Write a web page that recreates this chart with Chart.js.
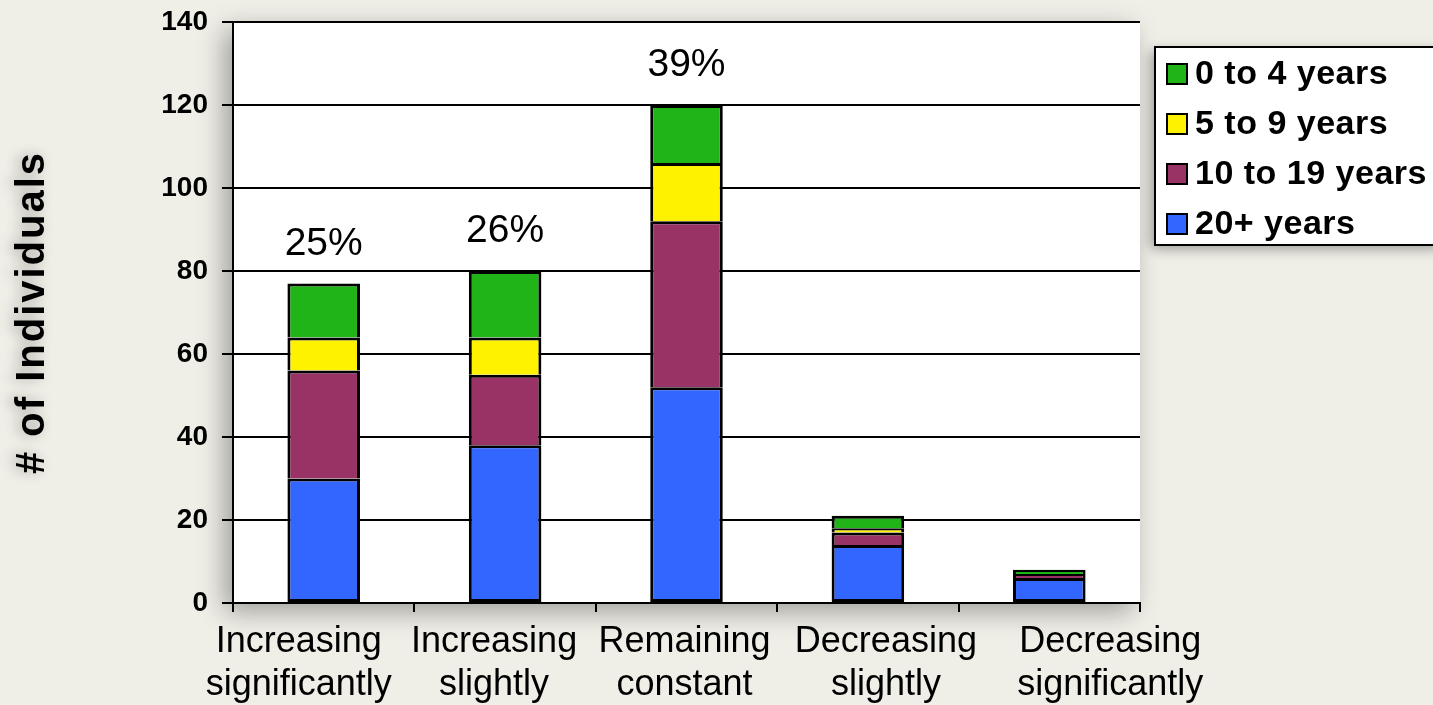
<!DOCTYPE html>
<html>
<head>
<meta charset="utf-8">
<script src="https://cdn.jsdelivr.net/npm/chart.js@4.4.1/dist/chart.umd.min.js"></script>
<style>
    body { margin: 0; background: #efeee7; }
    canvas { display: block; }
</style>
</head>
<body>
<canvas id="chart" width="1433" height="705"></canvas>
<script>
const categories = [
    ['Increasing', 'significantly'],
    ['Increasing', 'slightly'],
    ['Remaining', 'constant'],
    ['Decreasing', 'slightly'],
    ['Decreasing', 'significantly']
];
const years20plus = [30, 38, 52, 14, 6];
const years10to19 = [26, 17, 40, 3, 1];
const years5to9 = [8, 9, 14, 1, 0];
const years0to4 = [13, 16, 14, 3, 1];
const percentLabels = ['25%', '26%', '39%', '', ''];
const yMin = 0, yMax = 140, yStep = 20;
const yTitle = '# of Individuals';

const FONT = "'Liberation Sans', Arial, sans-serif";
// category labels are spread out a bit like in the original slide
const labelShift = [-25, -11, -2, 18, 61];

// white plot area with a soft shadow behind it
const plotBackground = {
    id: 'plotBackground',
    beforeDraw(chart) {
        const { ctx, chartArea: a } = chart;
        ctx.save();
        ctx.shadowColor = 'rgba(0,0,0,0.35)';
        ctx.shadowBlur = 25;
        ctx.shadowOffsetX = -8;
        ctx.shadowOffsetY = 8;
        ctx.fillStyle = '#ffffff';
        ctx.fillRect(a.left, a.top, a.right - a.left, a.bottom - a.top);
        ctx.restore();

        // y axis title, drawn by hand for the letter spacing
        ctx.save();
        ctx.translate(33, (a.top + a.bottom) / 2);
        ctx.rotate(-Math.PI / 2);
        ctx.font = `bold 40px ${FONT}`;
        ctx.letterSpacing = '2px';
        ctx.textAlign = 'center';
        ctx.textBaseline = 'middle';
        ctx.shadowColor = 'rgba(0,0,0,0.3)';
        ctx.shadowBlur = 14;
        ctx.shadowOffsetX = -4;
        ctx.fillStyle = '#000';
        ctx.fillText(yTitle, 0, 0);
        ctx.restore();
    }
};

// category names under the axis, and percentages above the first bars
const textPlugin = {
    id: 'textPlugin',
    afterDatasetsDraw(chart) {
        const { ctx, scales, chartArea } = chart;
        ctx.save();
        ctx.fillStyle = '#000';
        ctx.textAlign = 'center';
        ctx.textBaseline = 'middle';
        ctx.font = `36px ${FONT}`;
        categories.forEach((lines, i) => {
            const x = scales.x.getPixelForValue(i) + labelShift[i];
            lines.forEach((line, j) => {
                ctx.fillText(line, x, chartArea.bottom + 39 + j * 43);
            });
        });
        ctx.font = `39px ${FONT}`;
        ctx.textBaseline = 'bottom';
        percentLabels.forEach((txt, i) => {
            if (!txt) return;
            const total = years20plus[i] + years10to19[i] + years5to9[i] + years0to4[i];
            const x = scales.x.getPixelForValue(i);
            const y = scales.y.getPixelForValue(total) - 20;
            ctx.fillText(txt, x, y);
        });
        ctx.restore();
    }
};

// boxed legend on the right, top item first
const legendBox = {
    id: 'legendBox',
    afterDraw(chart) {
        const { ctx } = chart;
        const left = 1155, top = 47, width = 290, height = 198;
        ctx.save();
        ctx.shadowColor = 'rgba(0,0,0,0.35)';
        ctx.shadowBlur = 12;
        ctx.shadowOffsetX = -4;
        ctx.shadowOffsetY = 4;
        ctx.fillStyle = '#fff';
        ctx.fillRect(left, top, width, height);
        ctx.restore();
        ctx.save();
        ctx.lineWidth = 2;
        ctx.strokeStyle = '#000';
        ctx.strokeRect(left, top, width, height);
        const items = chart.data.datasets.slice().reverse();
        ctx.font = `bold 34px ${FONT}`;
        ctx.letterSpacing = '0.5px';
        ctx.textBaseline = 'middle';
        items.forEach((ds, i) => {
            const cy = 74 + i * 50;
            ctx.fillStyle = ds.backgroundColor;
            ctx.fillRect(1167, cy - 10, 20, 20);
            ctx.strokeRect(1167, cy - 10, 20, 20);
            ctx.fillStyle = '#000';
            ctx.fillText(ds.label, 1195, cy + 1);
        });
        ctx.restore();
    }
};

// upper segments skip their bottom edge so joins stay one line thick
function makeDataset(label, data, color, isBottom) {
    return {
        label: label,
        data: data,
        backgroundColor: color,
        borderColor: '#000',
        borderWidth: 3,
        borderSkipped: isBottom ? false : 'bottom',
        inflateAmount: 0,
        barPercentage: 0.4,
        categoryPercentage: 1.0
    };
}

new Chart(document.getElementById('chart'), {
    type: 'bar',
    data: {
        labels: categories,
        datasets: [
            makeDataset('20+ years', years20plus, '#3366ff', true),
            makeDataset('10 to 19 years', years10to19, '#993366'),
            makeDataset('5 to 9 years', years5to9, '#fff200'),
            makeDataset('0 to 4 years', years0to4, '#20b418')
        ]
    },
    options: {
        responsive: false,
        animation: false,
        layout: { padding: { top: 0, right: 293, left: 0, bottom: 0 } },
        plugins: {
            legend: { display: false },
            tooltip: { enabled: false }
        },
        scales: {
            x: {
                stacked: true,
                grid: { drawOnChartArea: false, offset: true, color: '#000', lineWidth: 2, tickLength: 9 },
                border: { color: '#000', width: 2 },
                ticks: { display: false },
                afterFit(scale) { scale.height = 102; }
            },
            y: {
                stacked: true,
                min: yMin,
                max: yMax,
                grid: { color: '#000', lineWidth: 2, tickLength: 11 },
                border: { color: '#000', width: 2 },
                ticks: { stepSize: yStep, color: '#000', font: { family: FONT, size: 28, weight: 'bold' }, padding: 14 },
                afterFit(scale) {
                    scale.width = 233;
                    scale.paddingTop = 22;
                    scale.paddingBottom = 0;
                }
            }
        }
    },
    plugins: [plotBackground, textPlugin, legendBox]
});
</script>
</body>
</html>
